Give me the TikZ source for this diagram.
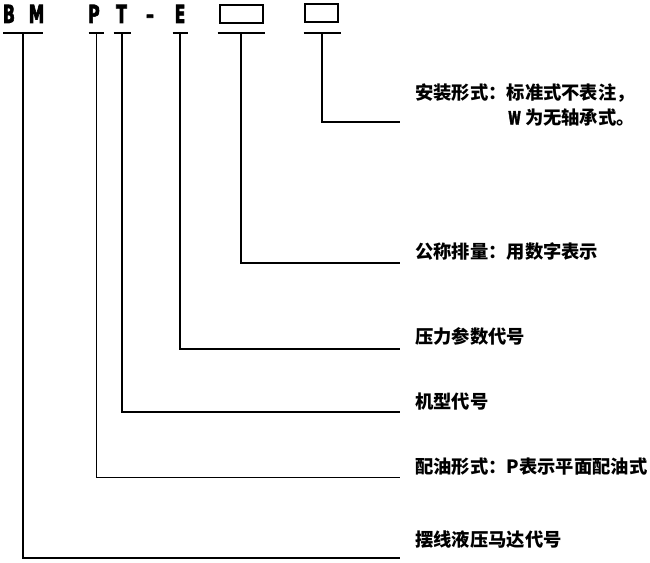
\documentclass[tikz,border=0pt]{standalone}
\usepackage{fontspec}
\newfontfamily\codefont[FakeStretch=0.62,FakeBold=2.5]{DejaVu Sans}
\newfontfamily\cjk{Noto Sans CJK SC}
\tikzstyle{code}=[anchor=base,font=\codefont\bfseries\fontsize{25}{25}\selectfont,inner sep=0pt]
\tikzstyle{field}=[draw,line width=1.5pt,inner sep=0pt]
\tikzstyle{note}=[anchor=west,inner sep=0pt,font=\cjk\bfseries\fontsize{18.3}{25}\selectfont]

\begin{document}
\begin{tikzpicture}[x=1pt,y=-1pt]
  \useasboundingbox (0,0) rectangle (650,562);

  \node[code] (cB)    at (9,23)    {B};
  \node[code] (cM)    at (36.5,23) {M};
  \node[code] (cP)    at (94,23)   {P};
  \node[code] (cT)    at (121.5,23) {T};
  \node[code] (cdash) at (150,23)  {–};
  \node[code] (cE)    at (180,23)  {E};
  \node[field, minimum width=43pt, minimum height=18pt] (size)  at (241.5,14) {};
  \node[field, minimum width=33pt, minimum height=18pt] (mount) at (321.5,13) {};

  \node[note, align=right] (tmount) at (415,105)
    {安装形式：标准式不表注，\\{\codefont\bfseries W} 为无轴承式。};
  \node[note] (tsize) at (415,252) {公称排量：用数字表示};
  \node[note] (tE)    at (415,336) {压力参数代号};
  \node[note] (tT)    at (415,402) {机型代号};
  \node[note] (tP)    at (415,467) {配油形式：P表示平面配油式};
  \node[note] (tBM)   at (415,540) {摆线液压马达代号};

  \foreach \name/\x/\half/\y/\lw in {bm/23/20/558/2.2, p/96/7.5/477/0.9,
            t/122/8.5/412/2.2, e/180/7.5/349/2.2, size/241/23.5/263/2.2,
            mount/322/18.5/122/2.2}
  {
    \draw[line width=2pt] (\x-\half,33) -- (\x+\half,33);
    \coordinate (\name top) at (\x,33);
    \coordinate (\name end) at (400,\y);
    \draw[line width=\lw pt] (\name top) |- (\name end);
  }
\end{tikzpicture}
\end{document}
